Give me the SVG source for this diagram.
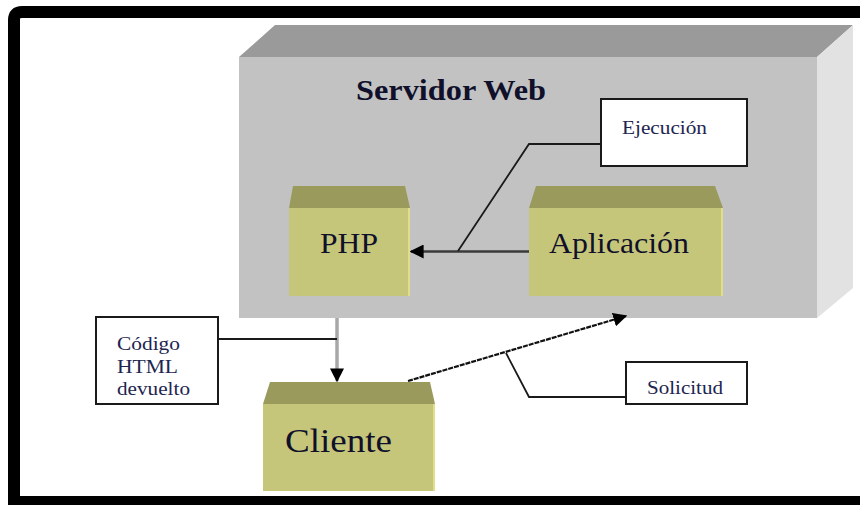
<svg xmlns="http://www.w3.org/2000/svg" width="860" height="505" viewBox="0 0 860 505">
  <style>
    .frame { fill: none; stroke: #000; stroke-width: 12; }
    .srv-front { fill: #c2c2c2; }
    .srv-top { fill: #9a9a9a; }
    .srv-side { fill: #e2e2e2; }
    .blk-front { fill: #c6c67a; }
    .blk-top { fill: #9a9a5c; }
    .blk-edge { stroke: #dede8c; stroke-width: 2; }
    .note { fill: #fff; stroke: #1a1a1a; stroke-width: 2; }
    .lead { fill: none; stroke: #1a1a1a; stroke-width: 1.8; }
    .big { font-family: "Liberation Serif", "Times New Roman", serif; fill: #10102a; }
    .small { font-family: "Liberation Serif", "Times New Roman", serif; fill: #1e2550; font-size: 19px; }
  </style>
  <defs>
    <marker id="headBig" viewBox="0 0 10 10" refX="9" refY="5" markerWidth="14" markerHeight="14" markerUnits="userSpaceOnUse" orient="auto">
      <path d="M0,0 L10,5 L0,10 Z" fill="#000"/>
    </marker>
  </defs>

  <rect width="860" height="505" fill="#fff"/>
  <!-- page frame, open on the right -->
  <path class="frame" d="M880,12 H22 Q14,12 14,20 V502 H880"/>

  <!-- web server block -->
  <g id="servidor">
    <polygon class="srv-top" points="239,57 275,25 853,25 817,57"/>
    <polygon class="srv-side" points="817,57 853,25 853,288 817,318"/>
    <rect class="srv-front" x="239" y="57" width="578" height="261"/>
    <text class="big" x="356" y="100" font-size="29" font-weight="bold" textLength="190" lengthAdjust="spacingAndGlyphs">Servidor Web</text>
  </g>

  <g id="php">
    <polygon class="blk-top" points="289,208 293,186 405,186 410,208"/>
    <rect class="blk-front" x="289" y="208" width="121" height="88"/>
    <line class="blk-edge" x1="409" y1="208" x2="409" y2="296"/>
    <text class="big" x="320" y="253" font-size="29" textLength="58" lengthAdjust="spacingAndGlyphs">PHP</text>
  </g>

  <g id="aplicacion">
    <polygon class="blk-top" points="529,208 536,186 715,186 723,208"/>
    <rect class="blk-front" x="529" y="208" width="194" height="88"/>
    <line class="blk-edge" x1="722" y1="208" x2="722" y2="296"/>
    <text class="big" x="549" y="253" font-size="30" textLength="140" lengthAdjust="spacingAndGlyphs">Aplicación</text>
  </g>

  <g id="cliente">
    <polygon class="blk-top" points="263,404 270,382 430,382 435,404"/>
    <rect class="blk-front" x="263" y="404" width="172" height="87"/>
    <line class="blk-edge" x1="434" y1="404" x2="434" y2="491"/>
    <text class="big" x="285" y="452" font-size="33" textLength="107" lengthAdjust="spacingAndGlyphs">Cliente</text>
  </g>

  <g id="ejecucion">
    <rect class="note" x="601" y="99" width="146" height="67"/>
    <text class="small" x="622" y="134" textLength="85" lengthAdjust="spacingAndGlyphs">Ejecución</text>
  </g>

  <g id="codigo">
    <rect class="note" x="96" y="317" width="122" height="87"/>
    <text class="small" x="117" y="350" textLength="63" lengthAdjust="spacingAndGlyphs">Código</text>
    <text class="small" x="117" y="373" textLength="61" lengthAdjust="spacingAndGlyphs">HTML</text>
    <text class="small" x="117" y="395" textLength="73" lengthAdjust="spacingAndGlyphs">devuelto</text>
  </g>

  <g id="solicitud">
    <rect class="note" x="626" y="362" width="121" height="42"/>
    <text class="small" x="647" y="394" textLength="76" lengthAdjust="spacingAndGlyphs">Solicitud</text>
  </g>

  <g id="connectors">
    <!-- Aplicación to PHP -->
    <line x1="529" y1="251.5" x2="411" y2="251.5" stroke="#3a3a3a" stroke-width="2.5" marker-end="url(#headBig)"/>
    <!-- server to client (returned HTML) -->
    <line x1="337" y1="318" x2="337" y2="381" stroke="#a8a8a8" stroke-width="3.5" marker-end="url(#headBig)"/>
    <!-- client request to server -->
    <line x1="408" y1="381" x2="626" y2="316" stroke="#111" stroke-width="2.2" stroke-dasharray="5,1" marker-end="url(#headBig)"/>
    <!-- label leaders -->
    <polyline class="lead" points="601,144 529,144 458,251"/>
    <polyline class="lead" points="218,339 337,339"/>
    <polyline class="lead" points="626,397 529,397 506,353"/>
  </g>
</svg>
